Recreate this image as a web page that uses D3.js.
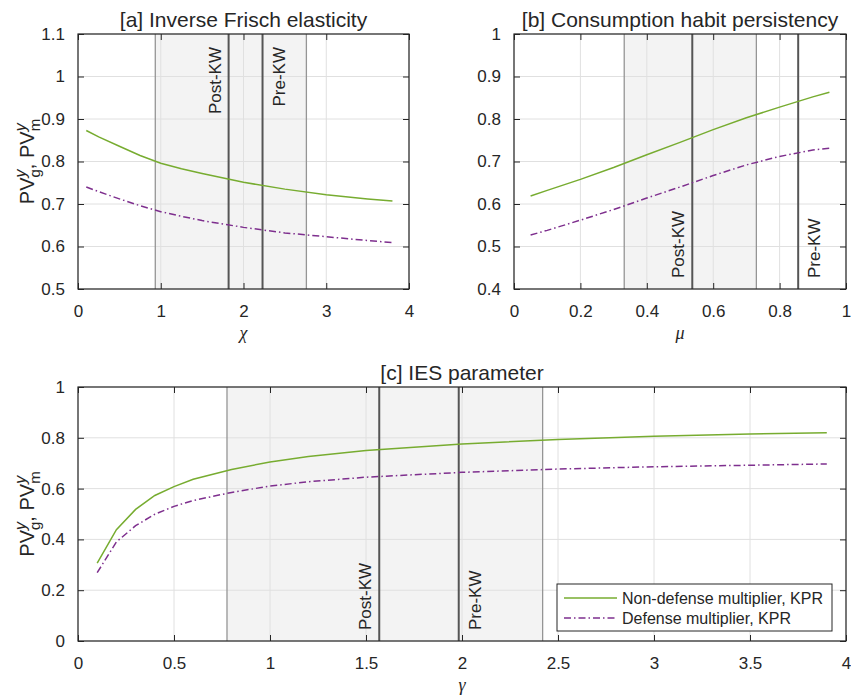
<!DOCTYPE html>
<html>
<head>
<meta charset="utf-8">
<script src="https://cdn.jsdelivr.net/npm/d3@7"></script>
<style>
body { margin:0; background:#fff; }
svg text { font-family: "Liberation Sans", Arial, sans-serif; fill:#262626; }
</style>
</head>
<body>
<div id="chart"></div>
<script>
"use strict";

// panel a: inverse Frisch elasticity (chi)
var chi_x      = [0.1, 0.25, 0.5, 0.75, 1.0, 1.25, 1.5, 2.0, 2.5, 3.0, 3.5, 3.8];
var chi_nondef = [0.873, 0.858, 0.836, 0.814, 0.796, 0.783, 0.772, 0.751, 0.735, 0.722, 0.712, 0.707];
var chi_def    = [0.740, 0.729, 0.712, 0.696, 0.682, 0.671, 0.661, 0.645, 0.632, 0.623, 0.614, 0.609];
var chi_band   = [0.934, 2.76];
var chi_kw     = {post: 1.82, pre: 2.23};

// panel b: consumption habit persistency (mu)
var mu_x      = [0.05, 0.1, 0.2, 0.3, 0.4, 0.5, 0.6, 0.7, 0.8, 0.9, 0.95];
var mu_nondef = [0.619, 0.632, 0.658, 0.686, 0.716, 0.745, 0.775, 0.803, 0.828, 0.852, 0.863];
var mu_def    = [0.527, 0.538, 0.562, 0.587, 0.614, 0.640, 0.667, 0.692, 0.712, 0.727, 0.731];
var mu_band   = [0.332, 0.73];
var mu_kw     = {post: 0.537, pre: 0.856};

// panel c: IES parameter (gamma)
var ga_x      = [0.1, 0.2, 0.3, 0.4, 0.5, 0.6, 0.8, 1.0, 1.2, 1.5, 2.0, 2.5, 3.0, 3.5, 3.9];
var ga_nondef = [0.307, 0.438, 0.518, 0.573, 0.608, 0.637, 0.675, 0.705, 0.726, 0.750, 0.776, 0.793, 0.806, 0.815, 0.820];
var ga_def    = [0.269, 0.390, 0.454, 0.499, 0.530, 0.553, 0.585, 0.610, 0.627, 0.645, 0.664, 0.677, 0.686, 0.692, 0.697];
var ga_band   = [0.776, 2.42];
var ga_kw     = {post: 1.569, pre: 1.983};

var legend_labels = ["Non-defense multiplier, KPR", "Defense multiplier, KPR"];

var green = "#77ac30", purple = "#7e2f8e";
var dashdot = "7,3,1.5,3";

var svg = d3.select("#chart").append("svg")
    .attr("width", 851).attr("height", 698);

function fmt(d){ return String(+d.toFixed(1)); }

function draw_panel(p){
    var x = d3.scaleLinear().domain(p.xdom).range([p.left, p.right]);
    var y = d3.scaleLinear().domain(p.ydom).range([p.bottom, p.top]);
    var g = svg.append("g");

    // shaded range
    g.append("rect")
        .attr("x", x(p.band[0])).attr("y", p.top)
        .attr("width", x(p.band[1]) - x(p.band[0]))
        .attr("height", p.bottom - p.top)
        .attr("fill", "#f3f3f3");

    // grid
    g.selectAll(".gx").data(p.xticks).enter().append("line")
        .attr("x1", d => x(d)).attr("x2", d => x(d))
        .attr("y1", p.top).attr("y2", p.bottom)
        .attr("stroke", "#e0e0e0").attr("stroke-width", 1);
    g.selectAll(".gy").data(p.yticks).enter().append("line")
        .attr("x1", p.left).attr("x2", p.right)
        .attr("y1", d => y(d)).attr("y2", d => y(d))
        .attr("stroke", "#e0e0e0").attr("stroke-width", 1);

    // band edges
    p.band.forEach(function(b){
        g.append("line")
            .attr("x1", x(b)).attr("x2", x(b))
            .attr("y1", p.top).attr("y2", p.bottom)
            .attr("stroke", "#959595").attr("stroke-width", 1.3);
    });

    // KW lines + labels (Post-KW left of its line, Pre-KW right)
    [["post", "Post-KW", -8], ["pre", "Pre-KW", 22]].forEach(function(k){
        var xv = x(p.kw[k[0]]);
        g.append("line")
            .attr("x1", xv).attr("x2", xv)
            .attr("y1", p.top).attr("y2", p.bottom)
            .attr("stroke", "#555").attr("stroke-width", 2);
        var ty = p.labelTop ? p.top + 13 : p.bottom - 11;
        g.append("text")
            .attr("transform", "translate(" + (xv + k[2]) + "," + ty + ") rotate(-90)")
            .attr("text-anchor", p.labelTop ? "end" : "start")
            .style("font-size", "17px")
            .text(k[1]);
    });

    // lines
    var line = d3.line().x(d => x(d[0])).y(d => y(d[1]));
    g.append("path")
        .datum(d3.zip(p.xs, p.nondef))
        .attr("d", line).attr("fill", "none")
        .attr("stroke", green).attr("stroke-width", 1.5);
    g.append("path")
        .datum(d3.zip(p.xs, p.def))
        .attr("d", line).attr("fill", "none")
        .attr("stroke", purple).attr("stroke-width", 1.5)
        .attr("stroke-dasharray", dashdot);

    // axes (ticks inward, matlab style)
    var ax = [
        [d3.axisBottom(x).tickValues(p.xticks).tickFormat(fmt), "translate(0," + p.bottom + ")"],
        [d3.axisTop(x).tickValues(p.xticks).tickFormat(""), "translate(0," + p.top + ")"],
        [d3.axisLeft(y).tickValues(p.yticks).tickFormat(fmt), "translate(" + p.left + ",0)"],
        [d3.axisRight(y).tickValues(p.yticks).tickFormat(""), "translate(" + p.right + ",0)"]
    ];
    ax.forEach(function(a, i){
        a[0].tickSizeInner(-6).tickSizeOuter(0).tickPadding(i == 0 ? 16 : 13);
        var ag = g.append("g").attr("transform", a[1]).call(a[0]);
        ag.select(".domain").remove();
        ag.selectAll("line").attr("stroke", "#262626");
        ag.selectAll("text").style("font-size", "17px").attr("fill", "#262626")
            .style("font-family", "'Liberation Sans', Arial, sans-serif");
    });

    g.append("rect")
        .attr("x", p.left).attr("y", p.top)
        .attr("width", p.right - p.left).attr("height", p.bottom - p.top)
        .attr("fill", "none").attr("stroke", "#262626").attr("stroke-width", 1.2);

    // title
    g.append("text")
        .attr("x", (p.left + p.right) / 2).attr("y", p.top - 7)
        .attr("text-anchor", "middle")
        .style("font-size", "21px")
        .text(p.title);

    // x label
    g.append("text")
        .attr("x", (p.left + p.right) / 2).attr("y", p.bottom + 50)
        .attr("text-anchor", "middle")
        .style("font-family", "'Liberation Serif', 'DejaVu Serif', serif")
        .style("font-style", "italic")
        .style("font-size", "18px")
        .text(p.xlabel);

    // y label
    if(p.ylabel){
        var yl = g.append("text")
            .attr("transform", "translate(34," + ((p.top + p.bottom) / 2) + ") rotate(-90)")
            .attr("text-anchor", "middle")
            .style("font-size", "20px");
        yl.append("tspan").text("PV");
        yl.append("tspan").attr("dy", -8).style("font-size", "16px")
            .style("font-style", "italic").text("y");
        yl.append("tspan").attr("dx", -8).attr("dy", 14).style("font-size", "15px").text("g");
        yl.append("tspan").attr("dy", -6).text(", PV");
        yl.append("tspan").attr("dy", -8).style("font-size", "16px")
            .style("font-style", "italic").text("y");
        yl.append("tspan").attr("dx", -8).attr("dy", 14).style("font-size", "15px").text("m");
    }
    return {x: x, y: y, g: g};
}

draw_panel({
    left: 78, right: 409, top: 34, bottom: 289,
    xdom: [0, 4], ydom: [0.5, 1.1],
    xticks: [0, 1, 2, 3, 4], yticks: [0.5, 0.6, 0.7, 0.8, 0.9, 1.0, 1.1],
    band: chi_band, kw: chi_kw, labelTop: true,
    xs: chi_x, nondef: chi_nondef, def: chi_def,
    title: "[a] Inverse Frisch elasticity", xlabel: "\u03C7", ylabel: true
});

draw_panel({
    left: 514, right: 846, top: 34, bottom: 289,
    xdom: [0, 1], ydom: [0.4, 1],
    xticks: [0, 0.2, 0.4, 0.6, 0.8, 1], yticks: [0.4, 0.5, 0.6, 0.7, 0.8, 0.9, 1],
    band: mu_band, kw: mu_kw, labelTop: false,
    xs: mu_x, nondef: mu_nondef, def: mu_def,
    title: "[b] Consumption habit persistency", xlabel: "\u03BC", ylabel: false
});

var pc = draw_panel({
    left: 78, right: 846, top: 387, bottom: 641,
    xdom: [0, 4], ydom: [0, 1],
    xticks: [0, 0.5, 1, 1.5, 2, 2.5, 3, 3.5, 4], yticks: [0, 0.2, 0.4, 0.6, 0.8, 1],
    band: ga_band, kw: ga_kw, labelTop: false,
    xs: ga_x, nondef: ga_nondef, def: ga_def,
    title: "[c] IES parameter", xlabel: "\u03B3", ylabel: true
});

// legend in panel c
var leg = pc.g.append("g").attr("transform", "translate(557,584)");
leg.append("rect").attr("width", 275).attr("height", 47)
    .attr("fill", "#fff").attr("stroke", "#262626").attr("stroke-width", 1);
legend_labels.forEach(function(lbl, i){
    var yy = 14 + i * 20;
    leg.append("line").attr("x1", 7).attr("x2", 60).attr("y1", yy).attr("y2", yy)
        .attr("stroke", i == 0 ? green : purple).attr("stroke-width", 1.5)
        .attr("stroke-dasharray", i == 0 ? null : dashdot);
    leg.append("text").attr("x", 65).attr("y", yy + 6)
        .style("font-size", "16px").text(lbl);
});
</script>
</body>
</html>
